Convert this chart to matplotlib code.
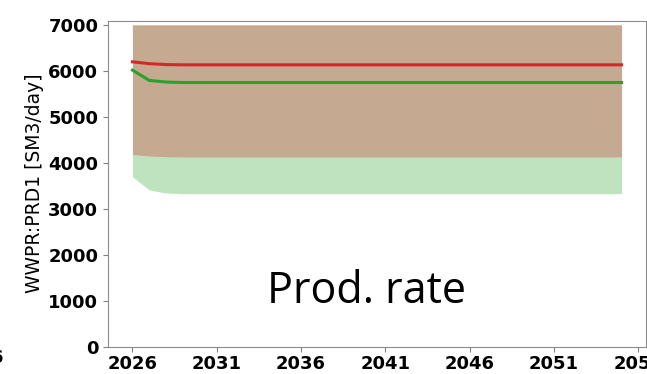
import matplotlib
matplotlib.use("Agg")
import matplotlib.pyplot as plt

# yearly forecast, 2026 .. 2055
years = list(range(2026, 2056))

# mean water production rate per scenario
red_mean = [6195, 6155, 6135] + [6130] * 27
green_mean = [6015, 5790, 5755] + [5745] * 27

# P10/P90 envelopes (top is capped at the plot maximum)
red_low = [4180, 4145, 4130] + [4125] * 27
red_high = [7000] * 30
green_low = [3695, 3405, 3340] + [3325] * 27
green_high = [7000] * 30

tick_years = [2026, 2031, 2036, 2041, 2046, 2051, 2056]

fig = plt.figure(figsize=(6.47, 3.74), dpi=100)
ax = fig.add_axes([108 / 647, 27.5 / 374, 538 / 647, 325.8 / 374])

# envelopes first, the red one laid over the green one
ax.fill_between(years, green_low, green_high, color="tab:green", alpha=0.3, linewidth=0)
ax.fill_between(years, red_low, red_high, color="tab:red", alpha=0.3, linewidth=0)
ax.plot(years, red_mean, color="tab:red", lw=2.2)
ax.plot(years, green_mean, color="tab:green", lw=2.2)

ax.set_ylim(0, 7090)
ax.set_xticks(tick_years)
ax.set_xticklabels([str(y) for y in tick_years])
ax.tick_params(labelsize=13, color="0.5", length=3.5)
ax.tick_params(axis="x", pad=2.5)
for lbl in ax.get_xticklabels() + ax.get_yticklabels():
	lbl.set_fontweight("bold")
ax.set_ylabel("WWPR:PRD1 [SM3/day]", fontsize=13.5, labelpad=3)
for sp in ax.spines.values():
	sp.set_color("0.55")

ax.text(0.48, 0.135, "Prod. rate", transform=ax.transAxes, ha="center",
	va="baseline", fontsize=31, family="Open Sans")

# edge of the neighbouring panel's tick label
fig.text(3 / 647, 1 - 358 / 374, "6", ha="right", va="center", fontsize=13, fontweight="bold")

fig.savefig("out.png", dpi=100)
